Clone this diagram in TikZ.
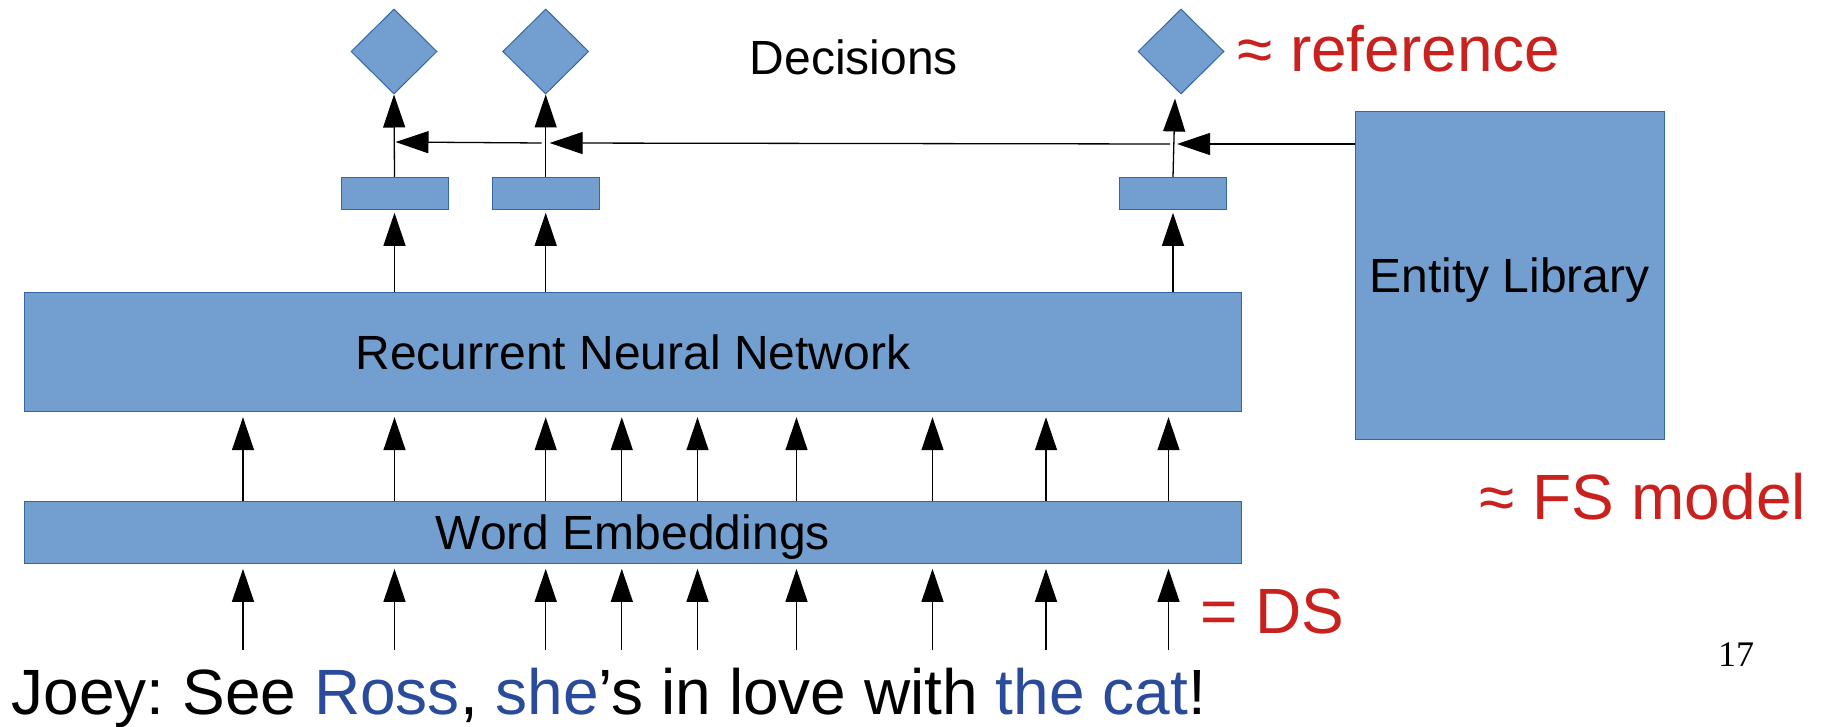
\documentclass[tikz,border=0pt]{standalone}
\usepackage{fontspec}
\setmainfont{Liberation Sans}
\newfontfamily\serifnum{Liberation Serif}
\usetikzlibrary{shapes.geometric,arrows.meta}
\definecolor{boxfill}{HTML}{729FCF}
\definecolor{boxline}{HTML}{3465A4}
\definecolor{redtxt}{HTML}{C9211E}
\definecolor{bluetxt}{HTML}{2A4B9B}
\frenchspacing
\tikzset{
  blk/.style={draw=boxline, fill=boxfill, line width=1pt, rectangle, inner sep=0pt},
  dec/.style={draw=boxline, fill=boxfill, line width=1pt, diamond, inner sep=0pt, minimum width=86pt, minimum height=85pt},
  arr/.style={line width=1.3pt, -{Triangle[length=33pt,width=22pt]}},
  big/.style={font=\fontsize{48}{56}\selectfont, text height=34pt, text depth=0pt},
  huge/.style={font=\fontsize{64}{72}\selectfont, inner sep=0pt},
}
\begin{document}
\begin{tikzpicture}[x=1pt,y=-1pt]
\useasboundingbox (0,0) rectangle (1822,727);
% boxes
\node[blk, big, minimum width=1216.5pt, minimum height=119pt] (rnn) at (632.8,352.2) {Recurrent Neural Network};
\node[blk, big, minimum width=1216.5pt, minimum height=62.3pt] (we) at (632.8,532.2) {Word Embeddings};
\node[blk, big, minimum width=309pt, minimum height=327.3pt] (ent) at (1509.5,275.4) {Entity Library};
\node[blk, minimum width=107pt, minimum height=32pt] (r1) at (394.5,193.3) {};
\node[blk, minimum width=106.7pt, minimum height=32pt] (r2) at (545.7,193.3) {};
\node[blk, minimum width=107pt, minimum height=32pt] (r3) at (1173,193.3) {};
\node[dec] (d1) at (394,51.5) {};
\node[dec] (d2) at (545.7,51.5) {};
\node[dec] (d3) at (1181,51.5) {};
% texts
\node[anchor=base west, inner sep=0pt, font=\fontsize{48}{56}\selectfont] (decl) at (749.5,74.4) {Decisions};
\node[huge, anchor=base west, text=redtxt] (refl) at (1237,72) {≈ reference};
\node[huge, anchor=base west, text=redtxt] (fsl) at (1479,519) {≈ FS model};
\node[huge, anchor=base west, text=redtxt] (dsl) at (1200,633) {= DS};
\node[anchor=base, inner sep=0pt, font=\serifnum\fontsize{36}{40}\selectfont] (pg) at (1736,666) {17};
\node[huge, anchor=base west] (sent) at (11.6,714) {Joey: See \textcolor{bluetxt}{Ross}, \textcolor{bluetxt}{she}’s in love with \textcolor{bluetxt}{the cat}!};
% word arrows
\foreach \i/\x in {1/243,2/394.5,3/545.7,4/621.8,5/697.5,6/796.5,7/932.5,8/1046,9/1168.5}{
  \coordinate (w\i) at (\x,650);
  \draw[arr] (w\i) -- ([yshift=-5pt]we.south -| w\i);
  \draw[arr] (we.north -| w\i) -- ([yshift=-5pt]rnn.south -| w\i);
}
% rnn to small boxes
\draw[arr] (rnn.north -| r1) -- ([yshift=-3pt]r1.south);
\draw[arr] (rnn.north -| r2) -- ([yshift=-3pt]r2.south);
\draw[arr] (rnn.north -| r3) -- ([yshift=-3pt]r3.south);
% small boxes to decisions
\draw[arr] (r1.north) -- (d1.south);
\draw[arr] (r2.north) -- (d2.south);
\draw[arr] (r3.north) -- ([xshift=2pt,yshift=-4pt]d3.south -| r3);
% horizontal arrows
\coordinate (h1) at (394.5,142);
\coordinate (h2) at (545.7,143);
\coordinate (h3) at (1174,144);
\draw[arr] (ent.west |- h3) -- ([xshift=3pt]h3);
\draw[arr] ([xshift=-4pt]h3) -- ([xshift=4pt]h2);
\draw[arr] ([xshift=-4pt]h2) -- ([xshift=1pt]h1);
\end{tikzpicture}
\end{document}
